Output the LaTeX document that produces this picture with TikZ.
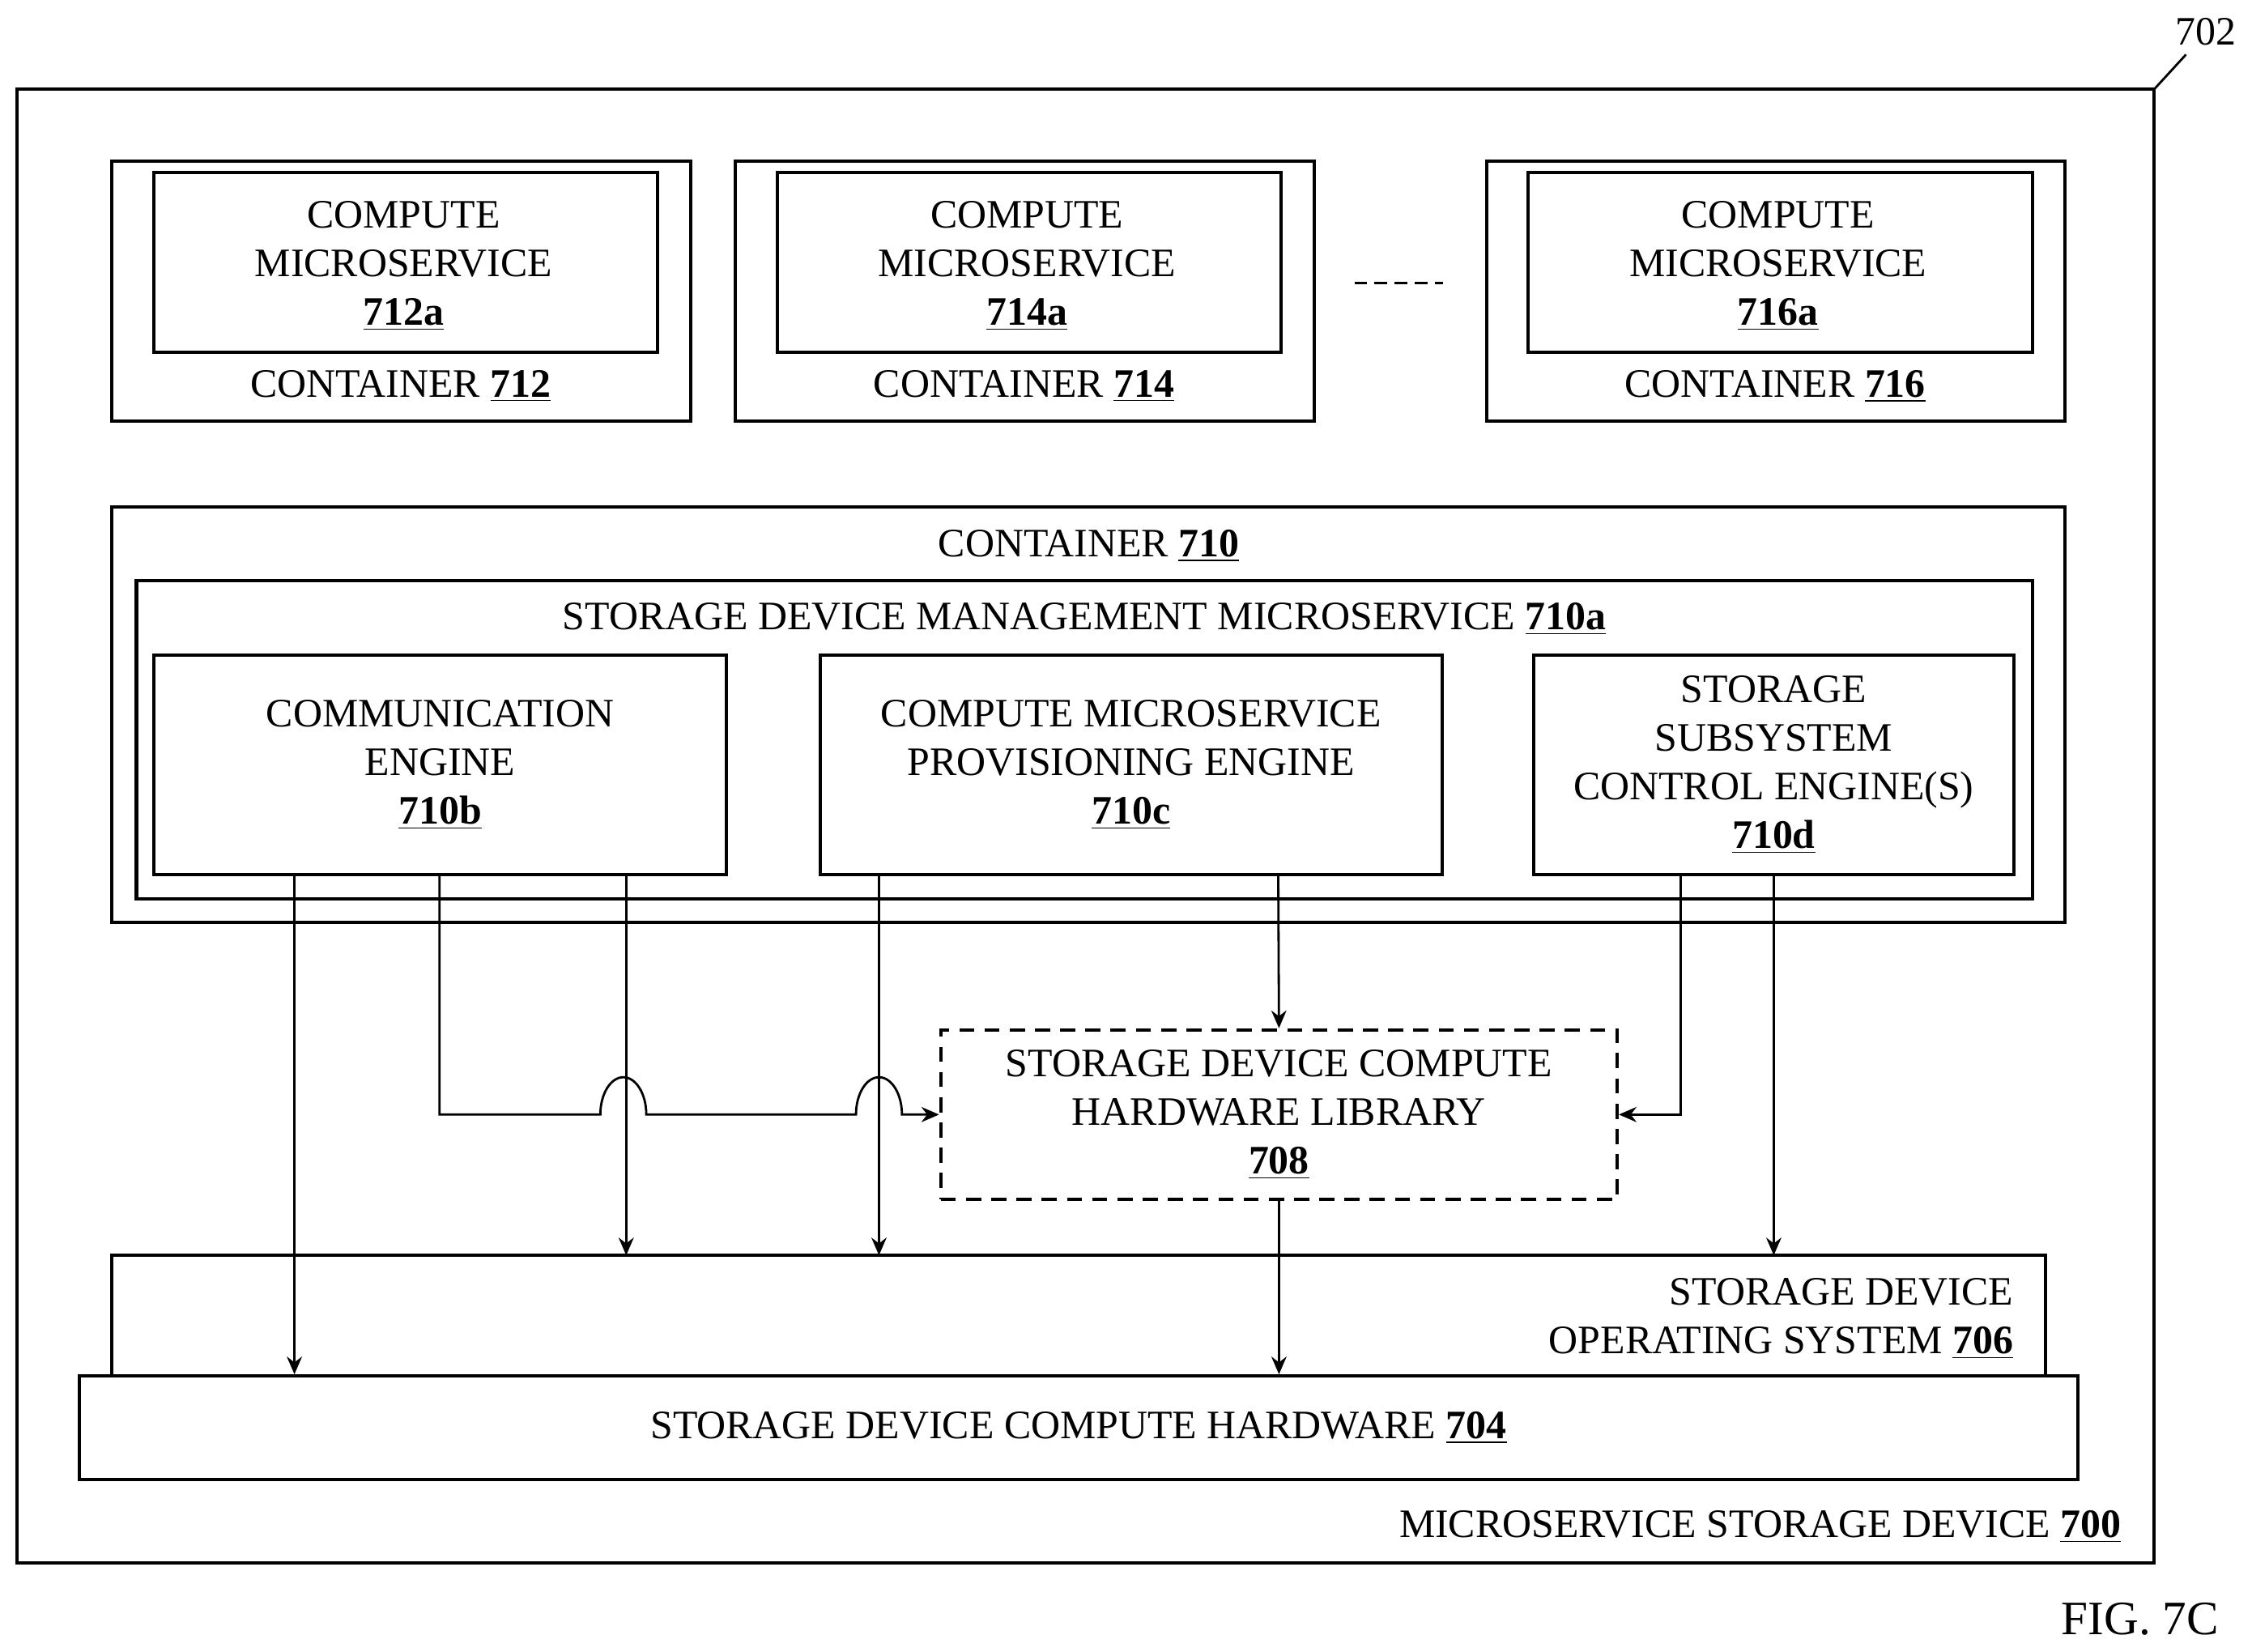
\documentclass[tikz,border=0pt]{standalone}
\usepackage{fontspec}
\setmainfont{Liberation Serif}
\usetikzlibrary{arrows.meta}
\newcommand{\nm}[1]{\underline{\textbf{#1}}}
\begin{document}
\begin{tikzpicture}[x=0.02cm,y=-0.02cm,
  every node/.style={font=\fontsize{16}{19.3}\selectfont},
  box/.style={draw,line width=1.3pt},
  ar/.style={line width=0.9pt,-{Stealth[length=7pt,width=6pt]}},
  ln/.style={line width=0.9pt}]
\useasboundingbox (0,0) rectangle (1568,1150);
% outer
\draw[box] (12,62) rectangle (1500,1088);
\draw[ln] (1500,62) -- (1522,38);
\node (l702) at (1536,22) {702};
\node[anchor=east] (l700) at (1483,1063) {MICROSERVICE STORAGE DEVICE \nm{700}};
\node (fig) at (1490,1127) {\fontsize{19}{22}\selectfont FIG. 7C};
% containers top
\foreach \x/\n in {78/712,512/714,1035/716}{
  \draw[box] (\x,112) rectangle ++(403,181);
  \draw[box] (\x+29,120) rectangle ++(351,125);
  \node[align=center] (c\n) at (\x+203,185) {COMPUTE\\MICROSERVICE\\\nm{\n a}};
  \node (t\n) at (\x+201,269) {CONTAINER \nm{\n}};
}
\draw[ln,dash pattern=on 5pt off 3pt] (943,197) -- (1005,197);
% container 710
\draw[box] (78,353) rectangle (1438,642);
\node (t710) at (758,380) {CONTAINER \nm{710}};
\draw[box] (95,404) rectangle (1415,626);
\node (t710a) at (755,431) {STORAGE DEVICE MANAGEMENT MICROSERVICE \nm{710a}};
\node[box,minimum width=399*0.02cm,minimum height=153*0.02cm] (b) at (306.5,532.5) {};
\node[align=center] at (b) {COMMUNICATION\\ENGINE\\\nm{710b}};
\node[box,minimum width=433*0.02cm,minimum height=153*0.02cm] (c) at (787.5,532.5) {};
\node[align=center] at (c) {COMPUTE MICROSERVICE\\PROVISIONING ENGINE\\\nm{710c}};
\node[box,minimum width=334*0.02cm,minimum height=153*0.02cm] (d) at (1235,532.5) {};
\node[align=center] at (d) {STORAGE\\SUBSYSTEM\\CONTROL ENGINE(S)\\\nm{710d}};
% library
\node[draw,line width=1.3pt,dash pattern=on 6pt off 4pt,minimum width=471*0.02cm,minimum height=118*0.02cm] (lib) at (890.5,776) {};
\node[align=center] at (lib) {STORAGE DEVICE COMPUTE\\HARDWARE LIBRARY\\\nm{708}};
% OS and hardware
\draw[box] (78,958) -- (78,874) -- (1424,874) -- (1424,958);
\node[align=right,anchor=east] (tos) at (1408,918) {STORAGE DEVICE\\OPERATING SYSTEM \nm{706}};
\node[box,minimum width=1392*0.02cm,minimum height=72*0.02cm] (hw) at (751,994) {};
\node at (hw) {STORAGE DEVICE COMPUTE HARDWARE \nm{704}};
% connectors
\draw[ar] (b.south -| 205,0) -- (hw.north -| 205,0);
\draw[ar] (b.south -| 436,0) -- (436,874);
\draw[ar] (c.south -| 612,0) -- (612,874);
\draw[ar] (c.south -| 890,0) -- (lib.north);
\draw[ar] (d.south -| 1235,0) -- (1235,874);
\draw[ar] (lib.south) -- (hw.north -| lib.south);
\draw[ar] (d.south -| 1170,0) -- (1170,776) -- (lib.east);
\draw[ar] (b.south -| 306,0) -- (306,776) -- (418,776)
   arc[start angle=180,end angle=0,x radius=0.32cm,y radius=0.52cm] -- (596,776)
   arc[start angle=180,end angle=0,x radius=0.32cm,y radius=0.52cm] -- (lib.west);
\end{tikzpicture}
\end{document}
